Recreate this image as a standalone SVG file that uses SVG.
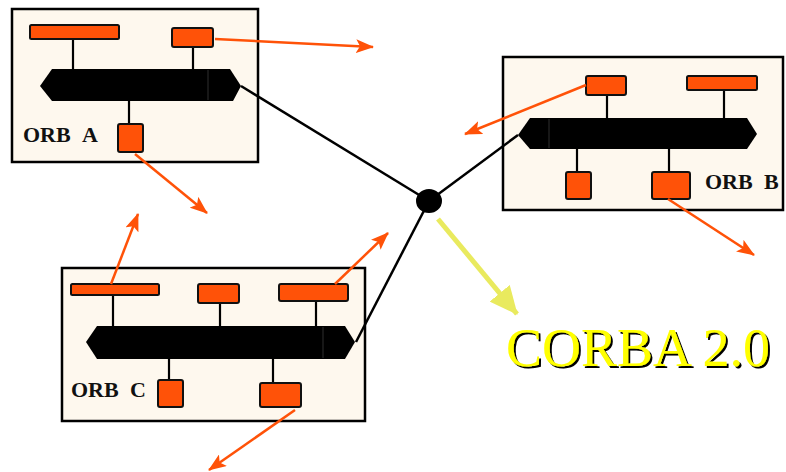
<svg xmlns="http://www.w3.org/2000/svg" width="786" height="472" viewBox="0 0 786 472">
  <defs>
    <style>
      .frame { fill: #FEF8EE; stroke: #000; stroke-width: 2.5; }
      .obj { fill: #FF5208; stroke: #111; stroke-width: 2; }
      .bus { fill: #000; }
      .seg { stroke: #3a3a3a; stroke-width: 0.8; }
      .tap { stroke: #000; stroke-width: 2.2; fill: none; }
      .link { stroke: #000; stroke-width: 2.5; fill: none; }
      .call { stroke: #FF5208; stroke-width: 2.5; fill: none; marker-end: url(#headO); }
      .lbl { font-family: "Liberation Serif", "Times New Roman", serif; font-weight: bold; font-size: 22px; fill: #111; }
      .title { font-family: "Liberation Serif", "Times New Roman", serif; font-size: 54px; fill: #FFFF00; filter: url(#shadow); }
    </style>
    <filter id="shadow" x="-5%" y="-20%" width="110%" height="140%">
      <feDropShadow dx="2" dy="2" stdDeviation="0" flood-color="#000" flood-opacity="1"/>
    </filter>
    <marker id="headO" markerUnits="userSpaceOnUse" markerWidth="18" markerHeight="14" refX="17" refY="7" orient="auto">
      <path d="M0,0 L18,7 L0,14 L4,7 z" fill="#FF5208"/>
    </marker>
    <marker id="headY" markerUnits="userSpaceOnUse" markerWidth="28" markerHeight="26" refX="27" refY="13" orient="auto">
      <path d="M0,0 L28,13 L0,26 z" fill="#E9EA5E"/>
    </marker>
  </defs>

  <!-- ORB A -->
  <g id="orb-a">
    <rect class="frame" x="12" y="9" width="246" height="153"/>
    <line class="tap" x1="73" y1="39" x2="73" y2="70"/>
    <line class="tap" x1="193" y1="47" x2="193" y2="70"/>
    <line class="tap" x1="129" y1="100" x2="129" y2="124"/>
    <polygon class="bus" points="40,86 52,69 230,69 241,86 233,101 52,101"/>
    <line class="seg" x1="208" y1="70" x2="208" y2="100"/>
    <rect class="obj" x="30" y="25" width="89" height="14" rx="1.5"/>
    <rect class="obj" x="172" y="28" width="41" height="19" rx="2"/>
    <rect class="obj" x="118" y="124" width="25" height="28" rx="2"/>
    <text class="lbl" x="23" y="142">ORB<tspan x="82">A</tspan></text>
  </g>

  <!-- ORB B -->
  <g id="orb-b">
    <rect class="frame" x="503" y="57" width="280" height="153"/>
    <line class="tap" x1="607" y1="95" x2="607" y2="118"/>
    <line class="tap" x1="724" y1="90" x2="724" y2="118"/>
    <line class="tap" x1="577" y1="149" x2="577" y2="172"/>
    <line class="tap" x1="669" y1="149" x2="669" y2="172"/>
    <polygon class="bus" points="518,135 530,118 747,118 757,134 747,149 530,149"/>
    <line class="seg" x1="549" y1="119" x2="549" y2="148"/>
    <rect class="obj" x="586" y="76" width="40" height="19" rx="2"/>
    <rect class="obj" x="687" y="76" width="70" height="14" rx="1.5"/>
    <rect class="obj" x="566" y="172" width="25" height="27" rx="2"/>
    <rect class="obj" x="652" y="172" width="38" height="27" rx="2"/>
    <text class="lbl" x="705" y="189">ORB<tspan x="764">B</tspan></text>
  </g>

  <!-- ORB C -->
  <g id="orb-c">
    <rect class="frame" x="62" y="268" width="303" height="153"/>
    <line class="tap" x1="113" y1="295" x2="113" y2="327"/>
    <line class="tap" x1="220" y1="303" x2="220" y2="327"/>
    <line class="tap" x1="316" y1="301" x2="316" y2="327"/>
    <line class="tap" x1="169" y1="358" x2="169" y2="380"/>
    <line class="tap" x1="273" y1="358" x2="273" y2="383"/>
    <polygon class="bus" points="86,342 97,326 345,326 355,342 345,359 97,359"/>
    <line class="seg" x1="323" y1="327" x2="323" y2="358"/>
    <rect class="obj" x="71" y="284" width="88" height="11" rx="1.5"/>
    <rect class="obj" x="198" y="284" width="41" height="19" rx="2"/>
    <rect class="obj" x="279" y="284" width="69" height="17" rx="2"/>
    <rect class="obj" x="158" y="380" width="25" height="27" rx="2"/>
    <rect class="obj" x="260" y="383" width="41" height="24" rx="2"/>
    <text class="lbl" x="71" y="397">ORB<tspan x="130">C</tspan></text>
  </g>

  <!-- Backbone: buses joined at a common hub -->
  <g id="backbone">
    <line class="link" x1="241" y1="86" x2="429" y2="201"/>
    <line class="link" x1="429" y1="201" x2="518" y2="135"/>
    <line class="link" x1="429" y1="201" x2="356" y2="342"/>
  </g>
  <g id="hub">
    <ellipse cx="429" cy="201" rx="13" ry="12" fill="#000"/>
  </g>

  <!-- Object requests -->
  <g id="connectors">
    <line class="call" x1="215" y1="39" x2="373" y2="47"/>
    <line class="call" x1="135" y1="154" x2="207" y2="213"/>
    <line class="call" x1="586" y1="85" x2="465" y2="134"/>
    <line class="call" x1="668" y1="199" x2="754" y2="255"/>
    <line class="call" x1="111" y1="284" x2="138" y2="214"/>
    <line class="call" x1="335" y1="284" x2="388" y2="233"/>
    <line class="call" x1="295" y1="410" x2="209" y2="470"/>
    <line x1="438" y1="219" x2="517" y2="314" stroke="#E9EA5E" stroke-width="5" marker-end="url(#headY)"/>
  </g>

  <!-- Title -->
  <g id="title">
    <text class="title" x="506" y="366">CORBA 2.0</text>
  </g>
</svg>
